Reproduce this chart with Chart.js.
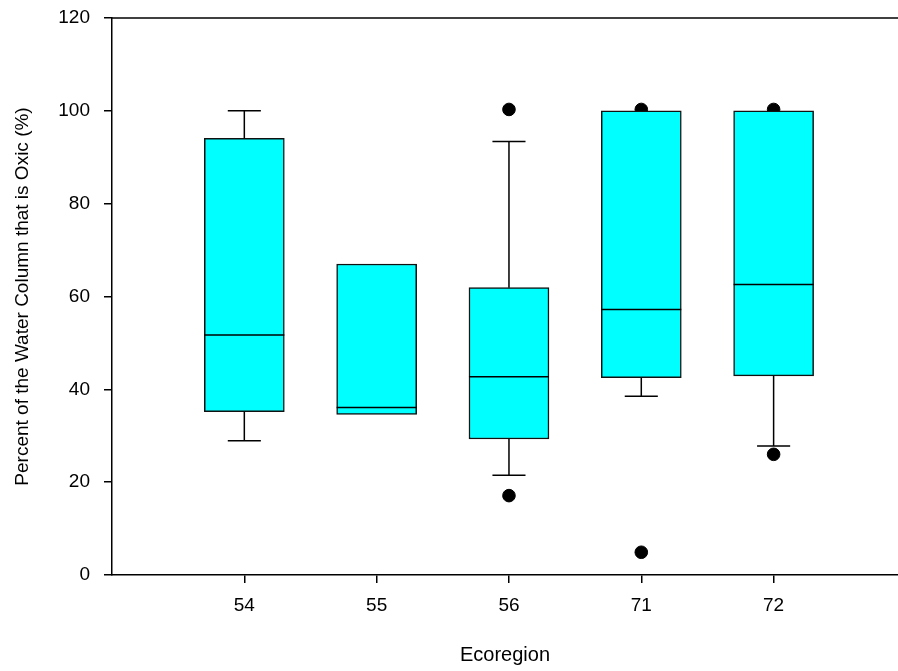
<!DOCTYPE html>
<html lang="en">
  <head>
    <meta charset="UTF-8" />
    <title>Ecoregion box plot</title>
    <style>
      body { margin: 0; background: #fff; overflow: hidden; }
      #wrap { width: 898px; height: 671px; }
    </style>
  </head>
  <body>
    <div id="wrap"><canvas id="box"></canvas></div>

    <script src="https://cdn.jsdelivr.net/npm/chart.js@4.4.0/dist/chart.umd.min.js"></script>
    <script>
      // values
      const categories = ["54", "55", "56", "71", "72"];
      const q1 = [35.2, 34.6, 29.3, 42.5, 42.9];
      const median = [51.7, 36.1, 42.7, 57.2, 62.6];
      const q3 = [94.1, 67.0, 61.9, 100, 100];
      const whiskerLow = [28.9, null, 21.5, 38.5, 27.8];
      const whiskerHigh = [100, null, 93.4, null, null];
      const outlierCat = ["56", "56", "71", "71", "72", "72"];
      const outlierVal = [100.3, 17.1, 100.3, 4.9, 100.3, 26.0];
      const yTicks = [0, 20, 40, 60, 80, 100, 120];

      const fontFam = "'Liberation Sans', Arial, sans-serif";
      Chart.defaults.color = "#000";
      Chart.defaults.font.family = fontFam;

      const boxData = categories.map((c, i) => ({ x: i + 1, y: [q1[i], q3[i]] }));
      const outlierData = outlierCat.map((c, i) => ({
        x: categories.indexOf(c) + 1,
        y: outlierVal[i],
      }));

      // whiskers, caps, medians and the top frame line
      const boxExtras = {
        id: "boxExtras",
        afterDatasetsDraw(chart) {
          const { ctx, chartArea } = chart;
          const x = chart.scales.x;
          const y = chart.scales.y;
          const bars = chart.getDatasetMeta(1).data;
          ctx.save();
          ctx.strokeStyle = "#000";
          ctx.lineWidth = 1.5;
          categories.forEach((c, i) => {
            const cx = x.getPixelForValue(i + 1);
            const cap = x.getPixelForValue(i + 1.125) - cx;
            const bar = bars[i];
            const half = bar.width / 2;
            // median
            ctx.beginPath();
            ctx.moveTo(bar.x - half, y.getPixelForValue(median[i]));
            ctx.lineTo(bar.x + half, y.getPixelForValue(median[i]));
            ctx.stroke();
            // whiskers
            [[whiskerLow[i], q1[i]], [whiskerHigh[i], q3[i]]].forEach(([w, q]) => {
              if (w == null) return;
              const wy = y.getPixelForValue(w);
              ctx.beginPath();
              ctx.moveTo(cx, y.getPixelForValue(q));
              ctx.lineTo(cx, wy);
              ctx.moveTo(cx - cap, wy);
              ctx.lineTo(cx + cap, wy);
              ctx.stroke();
            });
          });
          ctx.beginPath();
          ctx.moveTo(chartArea.left, chartArea.top);
          ctx.lineTo(chartArea.right, chartArea.top);
          ctx.stroke();
          ctx.restore();
        },
      };

      const chart = new Chart(document.getElementById("box"), {
        type: "bar",
        data: {
          datasets: [
            {
              type: "scatter",
              label: "Outliers",
              data: outlierData,
              backgroundColor: "#000",
              borderColor: "#000",
              pointRadius: 6.3,
              clip: false,
              order: 2,
            },
            {
              label: "Box",
              data: boxData,
              backgroundColor: "#00ffff",
              borderColor: "#111",
              borderWidth: 1.5,
              borderSkipped: false,
              barThickness: 80,
              order: 1,
            },
          ],
        },
        options: {
          responsive: true,
          maintainAspectRatio: false,
          animation: false,
          layout: { autoPadding: false, padding: { top: 18, right: 0, left: 0, bottom: 0 } },
          plugins: { legend: { display: false }, tooltip: { enabled: false } },
          scales: {
            x: {
              type: "linear",
              offset: false,
              min: 0,
              max: 5.94,
              afterBuildTicks: (s) => {
                s.ticks = categories.map((c, i) => ({ value: i + 1 }));
              },
              afterFit: (s) => {
                s.height = 96;
                s.paddingRight = 0;
                s.paddingLeft = 0;
              },
              ticks: {
                font: { size: 19 },
                padding: 11,
                callback: (v) => categories[v - 1],
              },
              grid: {
                offset: false,
                drawOnChartArea: false,
                drawTicks: true,
                tickLength: 8,
                color: "#000",
                lineWidth: 1.5,
              },
              border: { display: true, color: "#000", width: 1.5 },
              title: {
                display: true,
                text: "Ecoregion",
                font: { size: 20 },
                padding: { top: 0, bottom: 4 },
              },
            },
            y: {
              min: 0,
              max: 120,
              afterBuildTicks: (s) => {
                s.ticks = yTicks.map((v) => ({ value: v }));
              },
              afterFit: (s) => {
                s.width = 112;
                s.paddingTop = 0;
                s.paddingBottom = 0;
              },
              ticks: { font: { size: 19 }, padding: 14 },
              grid: {
                drawOnChartArea: false,
                drawTicks: true,
                tickLength: 8,
                color: "#000",
                lineWidth: 1.5,
              },
              border: { display: true, color: "#000", width: 1.5 },
              title: {
                display: true,
                text: "Percent of the Water Column that is Oxic (%)",
                font: { size: 19 },
                padding: { top: 11, bottom: 0 },
              },
            },
          },
        },
        plugins: [boxExtras],
      });
    </script>
  </body>
</html>
